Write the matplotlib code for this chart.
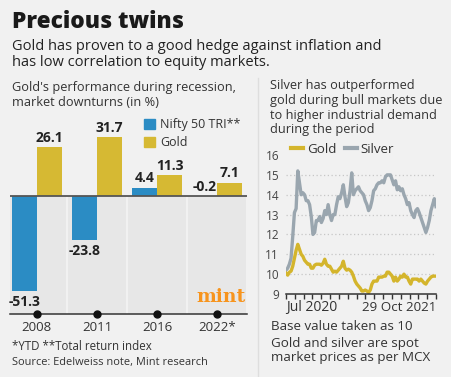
import numpy as np
import matplotlib
matplotlib.use("Agg")
import matplotlib.pyplot as plt
from matplotlib.lines import Line2D
from matplotlib.patches import Patch
from matplotlib.transforms import blended_transform_factory

plt.rcParams["font.family"] = ["Open Sans", "DejaVu Sans"]

# left chart: performance during downturns (%)
years = ["2008", "2011", "2016", "2022*"]
nifty = [-51.3, -23.8, 4.4, -0.2]
gold_ret = [26.1, 31.7, 11.3, 7.1]

# right chart: base value 10
silver = [10.2, 10.3, 10.5, 10.8, 11.9, 13.1, 13.3, 15.2, 14.6, 14.0,
          14.1, 14.0, 13.7, 13.7, 13.5, 12.9, 12.0, 12.1, 12.7, 12.7,
          12.9, 12.6, 12.8, 13.2, 13.0, 13.5, 13.0, 12.7, 13.0, 13.0,
          13.5, 13.9, 13.8, 14.1, 14.5, 13.9, 13.4, 13.6, 14.2, 15.1,
          14.0, 14.2, 14.3, 14.4, 14.2, 14.1, 14.0, 13.7, 13.5, 13.2,
          13.35, 13.7, 14.2, 14.3, 14.5, 14.6, 14.6, 14.7, 14.6, 14.9,
          15.0, 15.0, 15.0, 14.75, 14.5, 14.7, 14.25, 14.4, 14.2, 14.3,
          14.0, 13.8, 13.5, 13.6, 13.2, 13.0, 12.85, 13.2, 13.3, 13.1,
          12.85, 12.6, 12.35, 12.1, 12.35, 12.7, 13.2, 13.5, 13.8, 13.4]
gold = [10.05, 9.95, 10.1, 10.15, 10.4, 10.8, 11.2, 11.5, 11.25, 11.0,
        10.9, 10.7, 10.6, 10.5, 10.5, 10.3, 10.3, 10.45, 10.5, 10.5,
        10.5, 10.45, 10.55, 10.75, 10.5, 10.4, 10.4, 10.25, 10.1, 10.15,
        10.1, 10.2, 10.3, 10.4, 10.65, 10.3, 10.2, 10.25, 10.2, 10.1,
        9.9, 9.65, 9.5, 9.4, 9.3, 9.15, 9.15, 9.2, 9.15, 9.08,
        9.2, 9.5, 9.65, 9.65, 9.65, 9.85, 9.85, 9.85, 9.9, 9.9,
        10.1, 10.1, 10.0, 9.9, 9.65, 9.85, 9.65, 9.75, 9.9, 9.85,
        10.0, 9.85, 9.85, 9.65, 9.5, 9.75, 9.75, 9.75, 9.75, 9.65,
        9.75, 9.65, 9.55, 9.5, 9.65, 9.75, 9.85, 9.9, 9.9, 9.9]
n_month_ticks = 18

BG = "#f1f1f1"
BLUE = "#2b8cc4"
GOLD_BAR = "#d6b933"
GOLD_LINE = "#d4b52c"
SILVER = "#9aa6af"
W, H = 451, 377

fig = plt.figure(figsize=(W / 100, H / 100), dpi=100, facecolor=BG)


def ftext(x, y, s, **kw):
    fig.text(x / W, 1 - y / H, s, **kw)


# headings
ftext(12, 22, "Precious twins", fontsize=16.3, fontweight="heavy", color="#1a1a1a", va="center")
ftext(12, 46, "Gold has proven to a good hedge against inflation and", fontsize=10.5, color="#222", va="center")
ftext(12, 63, "has low correlation to equity markets.", fontsize=10.5, color="#222", va="center")
ftext(12, 88, "Gold's performance during recession,", fontsize=9.2, color="#333", va="center")
ftext(12, 102, "market downturns (in %)", fontsize=9.2, color="#333", va="center")
for i, line in enumerate(["Silver has outperformed", "gold during bull markets due",
                          "to higher industrial demand", "during the period"]):
    ftext(270, 86 + i * 14.6, line, fontsize=9.2, color="#333", va="center")

ftext(12, 346, "*YTD **Total return index", fontsize=8.3, color="#333", va="center")
ftext(12, 362, "Source: Edelweiss note, Mint research", fontsize=7.9, color="#333", va="center")
ftext(271, 327, "Base value taken as 10", fontsize=9.6, color="#333", va="center")
ftext(271, 343, "Gold and silver are spot", fontsize=9.6, color="#333", va="center")
ftext(271, 357, "market prices as per MCX", fontsize=9.6, color="#333", va="center")

fig.add_artist(Line2D([258 / W, 258 / W], [0, 1 - 78 / H], color="#dedede", lw=1))

# ---- left: bars ----
ax1 = fig.add_axes([10 / W, 1 - 314 / H, 237 / W, 199 / H])
ax1.set_facecolor("none")
x = np.arange(len(years))
ylo, yhi = -63.6, 43.4
ax1.bar(x, [ylo] * len(x), width=0.965, color="#e7e7e7", zorder=0)
bw = 0.415
ax1.bar(x - bw / 2, nifty, bw, color=BLUE, zorder=2)
ax1.bar(x + bw / 2, gold_ret, bw, color=GOLD_BAR, zorder=2)
ax1.axhline(0, color="#555", lw=1.3, zorder=3)
for xi, v in zip(x - bw / 2, nifty):
    if v > -1:
        ax1.annotate(f"{v}", (xi, max(v, 0)), xytext=(0, 1.5), textcoords="offset points",
                     ha="center", va="bottom", fontsize=10, fontweight="bold", color="#222")
    else:
        ax1.annotate(f"{v}", (xi, v), xytext=(0, -3), textcoords="offset points",
                     ha="center", va="top", fontsize=10, fontweight="bold", color="#222")
for xi, v in zip(x + bw / 2, gold_ret):
    ax1.annotate(f"{v}", (xi, v), xytext=(0, 1.5), textcoords="offset points",
                 ha="center", va="bottom", fontsize=10, fontweight="bold", color="#222")
ax1.plot(x, [ylo] * len(x), "o", color="#111", ms=5, clip_on=False, zorder=5)
ax1.set_xlim(-0.4435, 3.493)
ax1.set_ylim(ylo, yhi)
ax1.set_xticks(x)
ax1.set_xticklabels(years, fontsize=9.5, color="#333")
ax1.tick_params(axis="x", length=0, pad=5)
ax1.set_yticks([])
for s in ["top", "left", "right"]:
    ax1.spines[s].set_visible(False)
ax1.spines["bottom"].set_color("#333")
ax1.spines["bottom"].set_linewidth(1.1)
ax1.legend(handles=[Patch(color=BLUE, label="Nifty 50 TRI**"), Patch(color=GOLD_BAR, label="Gold")],
           loc="upper left", bbox_to_anchor=(0.54, 1.015), frameon=False, fontsize=9,
           handlelength=0.9, handleheight=0.9, handletextpad=0.4, labelspacing=0.4,
           borderpad=0, labelcolor="#333")
ax1.text(0.995, 0.085, "mint", transform=ax1.transAxes, ha="right", va="center",
         fontsize=13.5, fontweight="bold", family="DejaVu Serif", color="#f7941d")

# ---- right: lines ----
ax2 = fig.add_axes([286 / W, 1 - 294 / H, 150 / W, 139 / H])
ax2.set_facecolor("none")
t = np.arange(len(silver))
ax2.plot(t, silver, color=SILVER, lw=2.4, solid_joinstyle="round")
ax2.plot(t, gold, color=GOLD_LINE, lw=2.4, solid_joinstyle="round")
ax2.set_xlim(0, len(silver) - 1)
ax2.set_ylim(9, 16)
ax2.set_yticks(range(9, 17))
ax2.tick_params(axis="y", length=0, pad=5, labelsize=8.5, labelcolor="#444")
for yv in range(10, 16):
    ax2.axhline(yv, color="#c6c6c6", lw=0.9, ls=(0, (1, 2)), zorder=0)
ax2.set_xticks(np.linspace(0, len(silver) - 1, n_month_ticks))
ax2.set_xticklabels([])
ax2.tick_params(axis="x", length=3.5, width=1, color="#333", direction="out")
for s in ["top", "left", "right"]:
    ax2.spines[s].set_visible(False)
ax2.spines["bottom"].set_color("#333")
ax2.spines["bottom"].set_linewidth(1.1)
tr = blended_transform_factory(ax2.transData, ax2.transAxes)
ax2.text(0, -0.095, "Jul 2020", transform=tr, ha="left", va="center", fontsize=10, color="#333")
ax2.text(len(silver) - 1, -0.095, "29 Oct 2021", transform=tr, ha="right", va="center",
         fontsize=9.6, color="#333")
ax2.legend(handles=[Line2D([], [], color=GOLD_LINE, lw=3, label="Gold"),
                    Line2D([], [], color=SILVER, lw=3, label="Silver")],
           loc="center left", bbox_to_anchor=(-0.01, 1.04), ncol=2, frameon=False,
           fontsize=9.6, handlelength=0.9, handletextpad=0.3, columnspacing=0.6,
           borderpad=0, labelcolor="#333")

fig.savefig("out.png", dpi=100, facecolor=BG)
